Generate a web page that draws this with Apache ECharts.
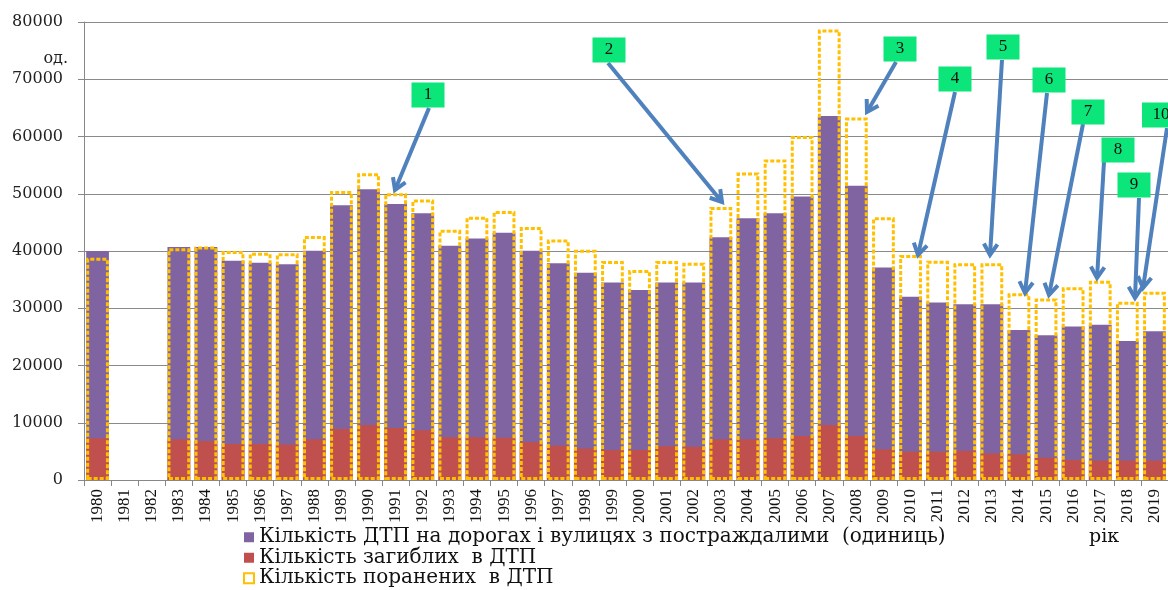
<!DOCTYPE html>
<html>
<head>
<meta charset="utf-8">
<script src="https://cdn.jsdelivr.net/npm/echarts@6/dist/echarts.min.js"></script>
<style>
  html, body { margin: 0; padding: 0; background: #fff; }
  #chart { width: 1168px; height: 590px; }
</style>
</head>
<body>
<div id="chart"></div>
<script>
const years = ['1980','1981','1982','1983','1984','1985','1986','1987','1988','1989',
  '1990','1991','1992','1993','1994','1995','1996','1997','1998','1999',
  '2000','2001','2002','2003','2004','2005','2006','2007','2008','2009',
  '2010','2011','2012','2013','2014','2015','2016','2017','2018','2019']

// ДТП з постраждалими
const accidents = [40000, null, null, 40700, 40700, 38300, 37950, 37700, 40050, 48000,
  50800, 48200, 46600, 40900, 42200, 43200, 40050, 37850, 36200, 34500,
  33200, 34500, 34500, 42400, 45700, 46600, 49500, 63600, 51400, 37100,
  32000, 31000, 30700, 30700, 26200, 25300, 26800, 27100, 24300, 26000]

// загиблі
const killed = [7300, null, null, 7100, 6800, 6300, 6300, 6200, 7100, 8900,
  9600, 9100, 8700, 7450, 7450, 7400, 6600, 6000, 5500, 5250,
  5250, 5900, 5800, 7100, 7100, 7300, 7700, 9600, 7700, 5350,
  4950, 4950, 5100, 4650, 4500, 3900, 3500, 3400, 3400, 3400]

// поранені
const injured = [38800, null, null, 40500, 40800, 40000, 39700, 39600, 42600, 50500,
  53600, 50100, 49000, 43700, 46000, 47000, 44200, 42000, 40200, 38250,
  36700, 38250, 37950, 47700, 53700, 56000, 60100, 78700, 63300, 45900,
  39300, 38300, 37850, 37850, 32600, 31700, 33650, 34800, 31150, 32900]

const yTicks = [0, 10000, 20000, 30000, 40000, 50000, 60000, 70000, 80000]

const seriesNames = [
  'Кількість ДТП на дорогах і вулицях з постраждалими  (одиниць)',
  'Кількість загиблих  в ДТП',
  'Кількість поранених  в ДТП'
]

// numbered callouts: label, box centre, arrow start, arrow tip (px)
const callouts = [
  { text: '1', box: [428, 95], from: [429, 108], to: [395, 190] },
  { text: '2', box: [609, 50], from: [608, 63], to: [722, 202] },
  { text: '3', box: [900, 49], from: [896, 62], to: [867, 112] },
  { text: '4', box: [955, 79], from: [955, 92], to: [918, 255] },
  { text: '5', box: [1003, 47], from: [1002, 60], to: [990, 255] },
  { text: '6', box: [1049, 80], from: [1047, 93], to: [1025, 293] },
  { text: '7', box: [1088, 112], from: [1083, 124], to: [1049, 295] },
  { text: '8', box: [1118, 150], from: [1104, 162], to: [1097, 278] },
  { text: '9', box: [1134, 185], from: [1139, 198], to: [1135, 298] },
  { text: '10', box: [1161, 115], from: [1167, 128], to: [1143, 288] }
]

const chartDom = document.getElementById('chart')
let chartInstance = null

const buildCallouts = () => {
  const items = []
  callouts.forEach(c => {
    const dx = c.to[0] - c.from[0]
    const dy = c.to[1] - c.from[1]
    const ang = Math.atan2(dy, dx)
    const len = 13
    const spread = 0.55
    const p1 = [c.to[0] - len * Math.cos(ang - spread), c.to[1] - len * Math.sin(ang - spread)]
    const p2 = [c.to[0] - len * Math.cos(ang + spread), c.to[1] - len * Math.sin(ang + spread)]
    items.push({
      type: 'line',
      shape: { x1: c.from[0], y1: c.from[1], x2: c.to[0], y2: c.to[1] },
      style: { stroke: '#4F81BD', lineWidth: 4 },
      z: 100
    })
    items.push({
      type: 'polyline',
      shape: { points: [p1, c.to, p2] },
      style: { stroke: '#4F81BD', lineWidth: 4, fill: null, lineJoin: 'miter' },
      z: 100
    })
    const w = c.text.length > 1 ? 38 : 33
    items.push({
      type: 'rect',
      shape: { x: c.box[0] - w / 2, y: c.box[1] - 12.5, width: w, height: 25 },
      style: { fill: '#0CE57A' },
      z: 101
    })
    items.push({
      type: 'text',
      x: c.box[0],
      y: c.box[1],
      style: {
        text: c.text,
        fill: '#111',
        font: '17px "Liberation Serif"',
        align: 'center',
        verticalAlign: 'middle'
      },
      z: 102
    })
  })
  return items
}

const initChart = () => {
  chartInstance = echarts.init(chartDom, null, { renderer: 'canvas' })
  updateChart()
}

const updateChart = () => {
  const option = {
    animation: false,
    backgroundColor: '#fff',
    grid: {
      left: 84,
      right: -12,
      top: 22,
      bottom: 110,
      containLabel: false
    },
    legend: {
      orient: 'vertical',
      left: 243,
      top: 527,
      padding: 0,
      icon: 'rect',
      itemWidth: 10,
      itemHeight: 10,
      itemGap: 0,
      selectedMode: false,
      textStyle: {
        fontFamily: 'DejaVu Serif',
        fontSize: 20,
        color: '#111',
        lineHeight: 20.5
      },
      data: seriesNames
    },
    xAxis: {
      type: 'category',
      data: years,
      axisLine: { lineStyle: { color: '#888', width: 1 } },
      axisTick: { show: true, length: 6, interval: 0, lineStyle: { color: '#888' } },
      axisLabel: {
        interval: 0,
        rotate: 90,
        margin: 9,
        fontFamily: 'Liberation Serif',
        fontSize: 17,
        color: '#111'
      }
    },
    yAxis: {
      type: 'value',
      min: yTicks[0],
      max: yTicks[yTicks.length - 1],
      interval: yTicks[1] - yTicks[0],
      axisLine: { show: true, lineStyle: { color: '#888', width: 1 } },
      axisTick: { show: true, length: 6, lineStyle: { color: '#888' } },
      axisLabel: {
        margin: 21,
        fontFamily: 'DejaVu Serif',
        fontSize: 16,
        color: '#222',
        formatter: value => String(value)
      },
      splitLine: { lineStyle: { color: '#8a8a8a', width: 1 } }
    },
    graphic: [
      {
        type: 'text',
        right: 1168 - 68,
        top: 51,
        style: {
          text: 'од.',
          font: '16px "DejaVu Serif"',
          fill: '#222'
        }
      },
      {
        type: 'text',
        left: 1089,
        top: 528,
        style: {
          text: 'рік',
          font: '19px "DejaVu Serif"',
          fill: '#111'
        }
      }
    ].concat(buildCallouts()),
    series: [
      {
        name: seriesNames[0],
        type: 'bar',
        data: accidents,
        barGap: '-100%',
        barCategoryGap: '16%',
        itemStyle: { color: '#8064A2' }
      },
      {
        name: seriesNames[1],
        type: 'bar',
        data: killed,
        barGap: '-100%',
        barCategoryGap: '16%',
        itemStyle: { color: '#C0504D' }
      },
      {
        name: seriesNames[2],
        type: 'bar',
        data: injured,
        barGap: '-100%',
        barCategoryGap: '16%',
        itemStyle: {
          color: 'rgba(0,0,0,0)',
          borderColor: '#FFC000',
          borderWidth: 3,
          borderType: [4, 2]
        }
      }
    ]
  }

  chartInstance.setOption(option)
}

const handleResize = () => {
  if (chartInstance) {
    chartInstance.resize()
  }
}

initChart()
window.addEventListener('resize', handleResize)
</script>
</body>
</html>
